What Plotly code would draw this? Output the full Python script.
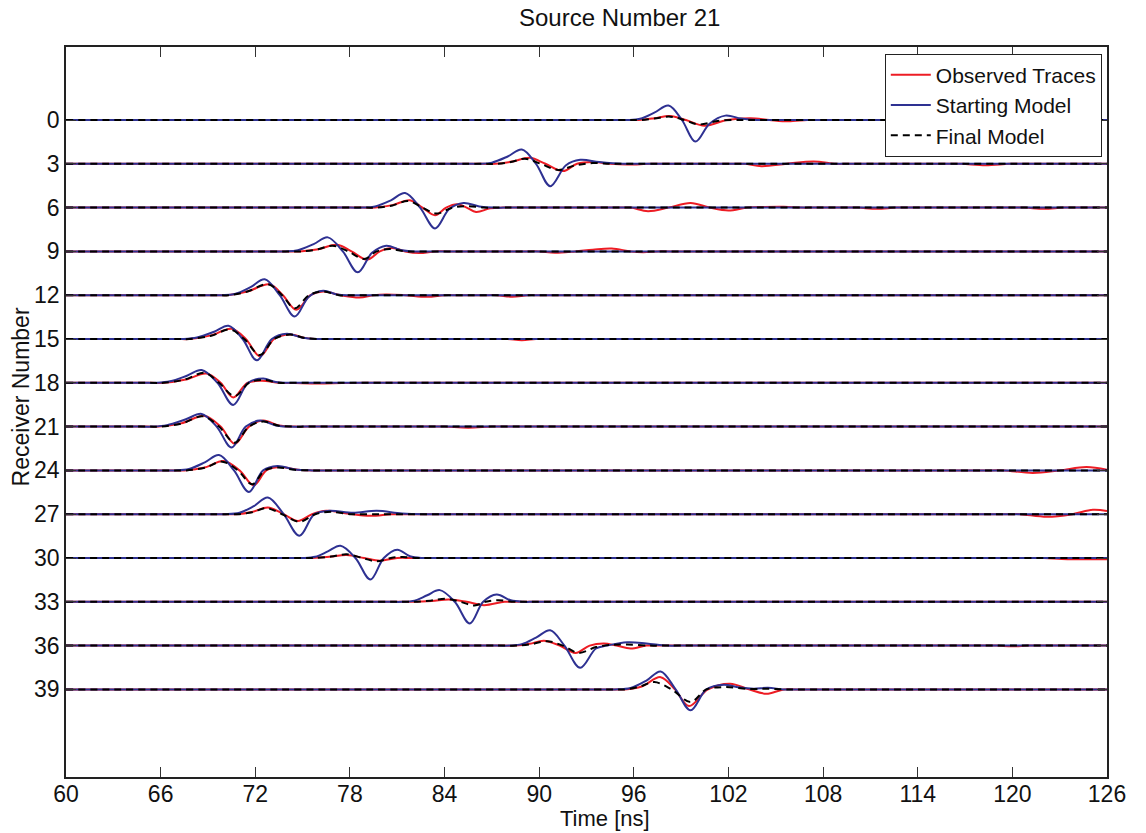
import plotly.graph_objects as go

# ---------------- data ----------------
receivers = [0, 3, 6, 9, 12, 15, 18, 21, 24, 27, 30, 33, 36, 39]
y_tick_labels = ["0", "3", "6", "9", "12", "15", "18", "21", "24", "27", "30", "33", "36", "39"]
x_ticks = [60, 66, 72, 78, 84, 90, 96, 102, 108, 114, 120, 126]

# key points (time [ns], amplitude in receiver-spacing units, positive = up)
# Observed traces (red)
obs_r00 = [(60, 0), (95.5, 0), (96.3, 0), (97.3, 0.12), (98.3, 0.28), (99.3, 0), (100.5, -0.39), (101.9, 0), (103.4, 0.12), (104.6, 0), (105.8, -0.09), (107, 0), (107.8, 0), (126, 0)]
obs_r03 = [(60, 0), (86.4, 0), (87.2, 0), (88.3, 0.15), (89.4, 0.41), (90.4, 0), (91.5, -0.5), (92.4, 0), (93.4, 0.12), (94.5, 0), (95.6, -0.05), (97, 0), (97.8, 0), (102.2, 0), (103, 0), (104.1, -0.16), (105.7, 0), (107.4, 0.16), (108.8, 0), (109.6, 0), (116, 0), (116.8, 0), (118.3, -0.1), (119.8, 0), (120.6, 0), (126, 0)]
obs_r06 = [(60, 0), (78.8, 0), (79.6, 0), (80.7, 0.17), (81.8, 0.5), (82.6, 0), (83.4, -0.52), (84.1, 0), (84.8, 0.23), (85.4, 0), (86.0, -0.3), (86.9, -0.05), (87.7, 0), (88.5, 0), (95, 0), (95.8, 0), (96.9, -0.25), (98.2, 0), (99.6, 0.32), (100.8, 0), (102.0, -0.2), (103.2, 0), (104.3, 0.04), (105.5, 0.05), (106.6, 0), (107.4, 0), (109.4, 0), (110.2, 0), (111.4, -0.08), (112.6, 0), (113.4, 0), (120, 0), (120.8, 0), (122, -0.08), (123.2, 0), (124, 0), (126, 0)]
obs_r09 = [(60, 0), (74.0, 0), (74.8, 0), (76.0, 0.15), (77.2, 0.46), (78.1, 0), (79.1, -0.57), (79.9, 0), (80.7, 0.23), (81.5, 0), (82.4, -0.11), (83.4, 0), (84.2, 0), (89.2, 0), (90, 0), (91, -0.1), (92.3, 0), (93.4, 0.12), (94.6, 0.2), (95.8, 0), (96.6, -0.05), (97.5, 0), (98.3, 0), (126, 0)]
obs_r12 = [(60, 0), (69.4, 0), (70.2, 0), (71.5, 0.25), (72.9, 0.75), (73.75, 0), (74.6, -1.0), (75.5, 0), (76.3, 0.25), (77.4, 0), (78.6, -0.16), (79.5, 0), (80.3, 0.05), (81.5, 0), (82.9, -0.11), (84, 0), (84.8, 0), (86.5, 0), (87.3, 0), (88.3, -0.1), (89.3, 0), (90.1, 0), (126, 0)]
obs_r15 = [(60, 0), (67.0, 0), (67.8, 0), (69.2, 0.25), (70.5, 0.7), (71.4, 0), (72.3, -1.19), (73.2, 0), (74.2, 0.3), (75.2, 0.06), (76.2, 0), (77, 0), (87.2, 0), (88, 0), (88.9, -0.08), (89.8, 0), (90.6, 0), (126, 0)]
obs_r18 = [(60, 0), (65.4, 0), (66.2, 0), (67.6, 0.22), (68.9, 0.64), (69.8, 0), (70.6, -1.0), (71.5, 0), (72.4, 0.14), (73.5, 0), (74.5, -0.02), (76, -0.05), (77.5, -0.02), (79, 0), (79.8, 0), (126, 0)]
obs_r21 = [(60, 0), (65.1, 0), (65.9, 0), (67.3, 0.22), (68.8, 0.73), (69.8, 0), (70.7, -1.18), (71.6, 0), (72.5, 0.41), (73.5, 0.08), (74.5, 0), (75.3, 0), (83.2, 0), (84, 0), (85.5, -0.08), (87, 0), (87.8, 0), (126, 0)]
obs_r24 = [(60, 0), (66.7, 0), (67.5, 0), (68.8, 0.2), (70.0, 0.64), (71.0, 0), (71.9, -1.02), (72.7, 0), (73.5, 0.23), (74.7, 0.05), (75.8, 0), (76.6, 0), (118.7, 0), (119.5, 0), (121.3, -0.18), (123.0, 0), (124.7, 0.23), (126, 0.05)]
obs_r27 = [(60, 0), (70.0, 0), (70.8, 0), (71.8, 0.15), (72.8, 0.46), (73.8, 0), (74.7, -0.46), (75.6, 0), (76.5, 0.23), (77.8, 0.05), (79.3, -0.11), (80.6, 0), (81.4, 0), (119.7, 0), (120.5, 0), (122.2, -0.18), (123.8, 0), (125.1, 0.3), (126, 0.22)]
obs_r30 = [(60, 0), (74.8, 0), (75.6, 0), (76.7, 0.08), (77.8, 0.2), (78.9, 0), (79.9, -0.18), (81.0, 0), (82.1, 0), (121.2, 0), (122, 0), (123.5, -0.08), (126, -0.08)]
obs_r33 = [(60, 0), (81.2, 0), (82.0, 0), (83.2, 0.06), (84.3, 0.16), (85.4, 0), (86.5, -0.23), (87.8, 0), (88.6, 0), (126, 0)]
obs_r36 = [(60, 0), (87.7, 0), (88.5, 0), (89.4, 0.12), (90.3, 0.34), (91.3, 0), (92.3, -0.5), (93.2, 0), (94.1, 0.14), (94.9, 0), (95.8, -0.2), (96.8, 0), (97.6, 0), (118.2, 0), (119, 0), (120, -0.05), (121, 0), (121.8, 0), (126, 0)]
obs_r39 = [(60, 0), (94.6, 0), (95.4, 0), (96.5, 0.2), (97.7, 0.84), (98.6, 0), (99.5, -1.14), (100.7, 0), (102.1, 0.39), (103.3, 0), (104.4, -0.3), (105.5, 0), (106.3, 0), (126, 0)]

# Starting model (blue)
start_r00 = [(60, 0), (94.8, 0), (95.6, 0), (96.4, 0.08), (97.3, 0.5), (98.2, 0.99), (99.05, 0), (99.9, -1.48), (100.8, -0.25), (101.8, 0.3), (102.8, 0.1), (103.8, 0), (104.6, 0), (126, 0)]
start_r03 = [(60, 0), (85.4, 0), (86.2, 0), (87.0, 0.08), (88.0, 0.5), (88.9, 0.98), (89.8, 0), (90.7, -1.53), (91.7, -0.1), (92.6, 0.27), (93.8, 0.12), (95.3, 0), (96.1, 0), (126, 0)]
start_r06 = [(60, 0), (78.0, 0), (78.8, 0), (79.6, 0.08), (80.6, 0.5), (81.5, 1.0), (82.45, 0), (83.4, -1.43), (84.3, -0.1), (85.2, 0.31), (86.2, 0.08), (87.1, 0), (87.9, 0), (126, 0)]
start_r09 = [(60, 0), (73.1, 0), (73.9, 0), (74.7, 0.08), (75.7, 0.5), (76.6, 0.96), (77.55, 0), (78.5, -1.43), (79.4, -0.1), (80.3, 0.39), (81.2, 0.1), (82.0, 0), (82.8, 0), (126, 0)]
start_r12 = [(60, 0), (69.1, 0), (69.9, 0), (70.7, 0.08), (71.7, 0.55), (72.6, 1.09), (73.55, 0), (74.5, -1.46), (75.4, -0.1), (76.3, 0.3), (77.2, 0.05), (78.0, 0), (78.8, 0), (126, 0)]
start_r15 = [(60, 0), (66.6, 0), (67.4, 0), (68.3, 0.1), (69.4, 0.5), (70.3, 0.91), (71.2, 0), (72.1, -1.46), (73.05, 0), (74.0, 0.36), (75.0, 0.08), (75.9, 0), (76.7, 0), (126, 0)]
start_r18 = [(60, 0), (64.9, 0), (65.7, 0), (66.6, 0.1), (67.7, 0.5), (68.6, 0.87), (69.6, 0), (70.6, -1.52), (71.55, 0), (72.5, 0.3), (73.3, 0.05), (74.1, 0), (74.9, 0), (126, 0)]
start_r21 = [(60, 0), (64.7, 0), (65.5, 0), (66.4, 0.1), (67.6, 0.5), (68.6, 0.87), (69.55, 0), (70.5, -1.43), (71.4, 0), (72.3, 0.41), (73.3, 0.08), (74.2, 0), (75.0, 0), (126, 0)]
start_r24 = [(60, 0), (66.1, 0), (66.9, 0), (67.8, 0.1), (68.8, 0.55), (69.7, 1.05), (70.65, 0), (71.6, -1.48), (72.5, 0), (73.4, 0.3), (74.5, 0.06), (75.6, 0), (76.4, 0), (126, 0)]
start_r27 = [(60, 0), (69.3, 0), (70.1, 0), (71.0, 0.1), (71.9, 0.55), (72.8, 1.14), (73.8, 0), (74.8, -1.48), (75.75, 0), (76.7, 0.23), (78.2, 0.1), (79.7, 0.23), (81.3, 0.05), (83.0, 0), (83.8, 0), (126, 0)]
start_r30 = [(60, 0), (74.2, 0), (75.0, 0), (75.8, 0.08), (76.6, 0.45), (77.4, 0.84), (78.35, 0), (79.3, -1.48), (80.15, 0), (81.0, 0.57), (81.8, 0.12), (82.6, 0), (83.4, 0), (126, 0)]
start_r33 = [(60, 0), (80.5, 0), (81.3, 0), (82.1, 0.08), (82.9, 0.45), (83.7, 0.8), (84.65, 0), (85.6, -1.48), (86.45, 0), (87.3, 0.5), (88.2, 0.1), (89.0, 0), (89.8, 0), (126, 0)]
start_r36 = [(60, 0), (87.3, 0), (88.1, 0), (88.9, 0.1), (89.8, 0.55), (90.7, 1.05), (91.6, 0), (92.6, -1.52), (93.6, -0.2), (94.3, 0), (95.6, 0.23), (96.8, 0.15), (98.1, 0), (98.9, 0), (126, 0)]
start_r39 = [(60, 0), (94.0, 0), (94.8, 0), (95.8, 0.1), (96.8, 0.6), (97.7, 1.23), (98.65, 0), (99.6, -1.43), (100.6, 0), (101.7, 0.32), (102.6, 0.15), (103.6, 0.05), (104.5, 0.11), (105.5, 0), (106.3, 0), (126, 0)]

# Final model (black dashed)
final_r00 = [(60, 0), (95.6, 0), (96.4, 0), (97.3, 0.1), (98.3, 0.23), (99.2, 0), (100.1, -0.3), (101.4, -0.05), (102.7, 0), (103.5, 0), (126, 0)]
final_r03 = [(60, 0), (86.5, 0), (87.3, 0), (88.2, 0.12), (89.1, 0.35), (90.1, 0), (91.2, -0.42), (92.3, -0.1), (93.4, 0.05), (94.5, 0), (95.3, 0), (126, 0)]
final_r06 = [(60, 0), (78.9, 0), (79.7, 0), (80.7, 0.15), (81.7, 0.45), (82.6, 0), (83.5, -0.41), (84.5, 0), (85.5, 0.1), (86.5, 0), (87.3, 0), (126, 0)]
final_r09 = [(60, 0), (74.1, 0), (74.9, 0), (75.9, 0.13), (76.9, 0.39), (77.9, 0), (78.9, -0.52), (79.7, 0), (80.5, 0.16), (81.5, 0), (82.3, 0), (126, 0)]
final_r12 = [(60, 0), (69.5, 0), (70.3, 0), (71.5, 0.25), (72.8, 0.75), (73.7, 0), (74.5, -0.9), (75.4, 0), (76.3, 0.25), (77.3, 0), (78.1, 0), (126, 0)]
final_r15 = [(60, 0), (67.0, 0), (67.8, 0), (69.2, 0.22), (70.4, 0.65), (71.3, 0), (72.3, -1.1), (73.2, 0), (74.2, 0.3), (75.2, 0.06), (76.2, 0), (77.0, 0), (126, 0)]
final_r18 = [(60, 0), (65.4, 0), (66.2, 0), (67.5, 0.22), (68.8, 0.68), (69.7, 0), (70.7, -0.91), (71.6, 0), (72.5, 0.2), (73.5, 0), (74.3, 0), (126, 0)]
final_r21 = [(60, 0), (65.2, 0), (66.0, 0), (67.3, 0.2), (68.7, 0.7), (69.7, 0), (70.7, -1.1), (71.6, 0), (72.5, 0.35), (73.5, 0.06), (74.5, 0), (75.3, 0), (126, 0)]
final_r24 = [(60, 0), (66.8, 0), (67.6, 0), (68.8, 0.18), (69.9, 0.6), (70.9, 0), (71.8, -0.95), (72.6, 0), (73.4, 0.2), (74.5, 0.04), (75.6, 0), (76.4, 0), (126, 0)]
final_r27 = [(60, 0), (70.1, 0), (70.9, 0), (71.8, 0.13), (72.7, 0.41), (73.7, 0), (74.8, -0.52), (75.8, 0), (76.8, 0.16), (78.0, 0), (78.8, 0), (126, 0)]
final_r30 = [(60, 0), (74.9, 0), (75.7, 0), (76.8, 0.1), (77.8, 0.25), (78.8, 0), (79.7, -0.23), (80.6, 0), (81.3, 0.07), (82.3, 0), (83.1, 0), (126, 0)]
final_r33 = [(60, 0), (81.3, 0), (82.1, 0), (83.1, 0.08), (84.1, 0.2), (85.0, 0), (85.9, -0.25), (86.6, 0), (87.4, 0.11), (88.4, 0), (89.2, 0), (126, 0)]
final_r36 = [(60, 0), (87.8, 0), (88.6, 0), (89.5, 0.1), (90.5, 0.3), (91.5, 0), (92.5, -0.5), (93.6, -0.1), (94.6, 0.05), (95.6, 0.07), (97, 0), (97.8, 0), (126, 0)]
final_r39 = [(60, 0), (94.7, 0), (95.5, 0), (96.4, 0.2), (97.3, 0.5), (98.4, 0), (99.6, -0.86), (100.6, 0), (101.8, 0.16), (103.3, 0.03), (104.5, 0.05), (105.5, 0), (106.3, 0), (126, 0)]

observed = [obs_r00, obs_r03, obs_r06, obs_r09, obs_r12, obs_r15, obs_r18, obs_r21, obs_r24, obs_r27, obs_r30, obs_r33, obs_r36, obs_r39]
starting = [start_r00, start_r03, start_r06, start_r09, start_r12, start_r15, start_r18, start_r21, start_r24, start_r27, start_r30, start_r33, start_r36, start_r39]
final = [final_r00, final_r03, final_r06, final_r09, final_r12, final_r15, final_r18, final_r21, final_r24, final_r27, final_r30, final_r33, final_r36, final_r39]

# ---------------- figure ----------------
FONT = "Liberation Sans, Arial, Helvetica, sans-serif"


def gather(series):
    xs, ys = [], []
    for rec, pts in zip(receivers, series):
        for t, a in pts:
            xs.append(t)
            ys.append(rec - a)  # reversed axis: positive amplitude drawn upward
        xs.append(None)
        ys.append(None)
    return xs, ys


fig = go.Figure()
styles = [
    ("Observed Traces", observed, dict(color="#ED1C24", width=2)),
    ("Starting Model", starting, dict(color="#2E3192", width=2)),
    ("Final Model", final, dict(color="#000000", width=2, dash="7px,5px")),
]
for name, series, line in styles:
    xs, ys = gather(series)
    fig.add_trace(go.Scatter(
        x=xs, y=ys, mode="lines", name=name,
        line=dict(shape="spline", smoothing=1.0, **line),
        connectgaps=False, hoverinfo="skip",
    ))

axis_common = dict(
    showline=True, linecolor="#222222", linewidth=1.5, mirror="ticks",
    ticks="inside", ticklen=10, tickwidth=1, tickcolor="#333333",
    showgrid=False, zeroline=False,
    tickfont=dict(family=FONT, size=23, color="#111111"),
)

fig.update_layout(
    width=1146, height=833, autosize=False,
    margin=dict(l=66, r=39, t=47, b=56),
    paper_bgcolor="white", plot_bgcolor="white",
    showlegend=True,
    legend=dict(
        x=0.995, y=0.991, xanchor="right", yanchor="top",
        bgcolor="white", bordercolor="#222222", borderwidth=1,
        font=dict(family=FONT, size=21, color="#111111"),
        tracegroupgap=0, itemwidth=40,
    ),
    xaxis=dict(range=[60, 126], tickvals=x_ticks, ticktext=[str(v) for v in x_ticks],
               ticklabelstandoff=-4, **axis_common),
    yaxis=dict(range=[45, -5], tickvals=receivers, ticktext=y_tick_labels, **axis_common),
    annotations=[
        dict(text="Source Number 21", xref="paper", yref="paper", x=0.532, y=1.0, yshift=30,
             showarrow=False, font=dict(family=FONT, size=24, color="#111111"),
             xanchor="center", yanchor="middle"),
        dict(text="Time [ns]", xref="paper", yref="paper", x=0.518, y=0, yshift=-55,
             showarrow=False, font=dict(family=FONT, size=22, color="#111111"),
             xanchor="center", yanchor="bottom", borderpad=0),
        dict(text="Receiver Number", xref="paper", yref="paper", x=0, xshift=-45, y=0.52,
             showarrow=False, textangle=-90, font=dict(family=FONT, size=23, color="#111111"),
             xanchor="center", yanchor="middle"),
    ],
)

fig.write_html("out.html")
